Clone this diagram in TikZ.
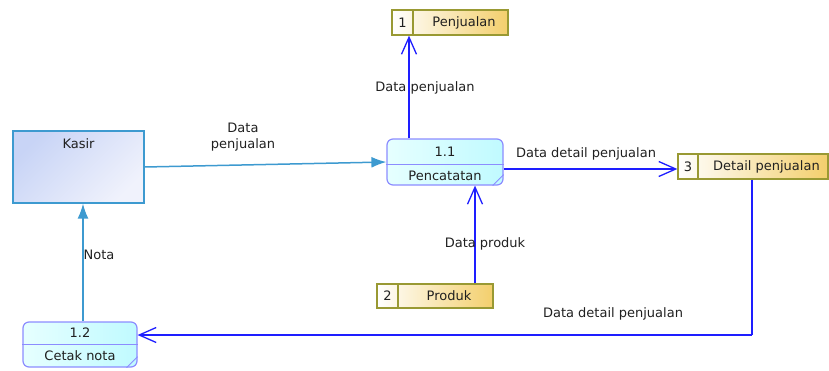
\documentclass[tikz,border=0pt]{standalone}
\usepackage{fontspec}
\setmainfont{DejaVu Sans}
\usetikzlibrary{arrows.meta}

\definecolor{flowblue}{HTML}{1E1EFF}
\definecolor{flowteal}{HTML}{3D9AD0}
\definecolor{procedge}{HTML}{8C8CFF}
\definecolor{procfillA}{HTML}{E6FFFF}
\definecolor{procfillB}{HTML}{C0FAFF}
\definecolor{storeedge}{HTML}{999933}
\definecolor{storegold}{HTML}{F3CF6C}
\definecolor{entedge}{HTML}{3D9AD0}
\definecolor{entfillA}{HTML}{C8D4F6}
\definecolor{entfillB}{HTML}{F0F2FC}
\definecolor{labeltext}{HTML}{202020}

\tikzset{
  txt/.style={font=\fontsize{13}{15}\selectfont, text=labeltext, inner sep=0pt},
  entitybox/.style={draw=entedge, line width=1.3pt, top color=entfillA, bottom color=entfillB,
    shading angle=45, minimum width=131pt, minimum height=72pt, inner sep=0pt},
  procbox/.style={draw=procedge, line width=1.2pt, rounded corners=6pt,
    left color=procfillA, right color=procfillB, minimum width=#1, inner sep=0pt},
  procbox/.default=116pt,
  procline/.style={draw=procedge, line width=1pt},
  storebox/.style={draw=storeedge, line width=1.3pt, left color=white, right color=storegold,
    minimum height=25pt, inner sep=0pt},
  storeline/.style={draw=storeedge, line width=1.3pt},
  flow/.style={draw=flowblue, line width=1.5pt, -{Straight Barb[length=17pt,width=15pt,line width=1.3pt]}},
  flowplain/.style={draw=flowblue, line width=1.5pt},
  entflow/.style={draw=flowteal, line width=1.5pt, -{Latex[length=15pt,width=11pt]}},
}

\begin{document}
\begin{tikzpicture}[x=1pt,y=-1pt]
\useasboundingbox (0,0) rectangle (829,370);

% external entity
\node[entitybox] (kasir) at (78.5,167) {};
\node[txt] (kasirtxt) at (78.5,144) {Kasir};

% process 1.1
\node[procbox, minimum height=46pt] (p11) at (445,162) {};
\draw[procline] (p11.west |- 0,164) -- (p11.east |- 0,164);
\draw[procline] ([xshift=-11pt]p11.south east) -- ([yshift=11pt]p11.south east);
\node[txt] (p11num) at (445,152) {1.1};
\node[txt] (p11name) at (445,176) {Pencatatan};

% process 1.2
\node[procbox=114pt, minimum height=45pt] (p12) at (80,344.5) {};
\draw[procline] (p12.west |- 0,344) -- (p12.east |- 0,344);
\draw[procline] ([xshift=-11pt]p12.south east) -- ([yshift=11pt]p12.south east);
\node[txt] (p12num) at (80,333) {1.2};
\node[txt] (p12name) at (80,356) {Cetak nota};

% data stores
\node[storebox, minimum width=116pt] (s1) at (450,22.5) {};
\draw[storeline] (413,0 |- s1.north) -- (413,0 |- s1.south);
\node[txt] (s1num) at (402.5,22.5) {1};
\node[txt] (s1name) at (464,22.5) {Penjualan};

\node[storebox, minimum width=116pt, minimum height=24pt] (s2) at (435,296) {};
\draw[storeline] (398,0 |- s2.north) -- (398,0 |- s2.south);
\node[txt] (s2num) at (387.5,296) {2};
\node[txt] (s2name) at (449,296) {Produk};

\node[storebox, minimum width=150pt] (s3) at (753,166.5) {};
\draw[storeline] (698,0 |- s3.north) -- (698,0 |- s3.south);
\node[txt] (s3num) at (688,166.5) {3};
\node[txt, anchor=west] (s3name) at (713,166.5) {Detail penjualan};

% data flows
\draw[entflow] (kasir.east) -- (p11.west);
\node[txt] (lbl1a) at (243,128) {Data};
\node[txt] (lbl1b) at (243,145) {penjualan};

\draw[flow] (409,0 |- p11.north) -- (409,0 |- s1.south);
\node[txt] (lbl2) at (425,88) {Data penjualan};

\draw[flow] (p11.east |- 0,169) -- (s3.west |- 0,169);
\node[txt] (lbl3) at (586,154) {Data detail penjualan};

\draw[flow] (475,0 |- s2.north) -- (475,0 |- p11.south);
\node[txt] (lbl4) at (485,244) {Data produk};

\coordinate (bend) at (752,335);
\draw[flowplain] (752,0 |- s3.south) -- (bend);
\draw[flow] (bend) -- (p12.east |- bend);
\node[txt] (lbl5) at (613,314) {Data detail penjualan};

\draw[entflow] (83,0 |- p12.north) -- (83,0 |- kasir.south);
\node[txt] (lbl6) at (99,255) {Nota};
\end{tikzpicture}
\end{document}
